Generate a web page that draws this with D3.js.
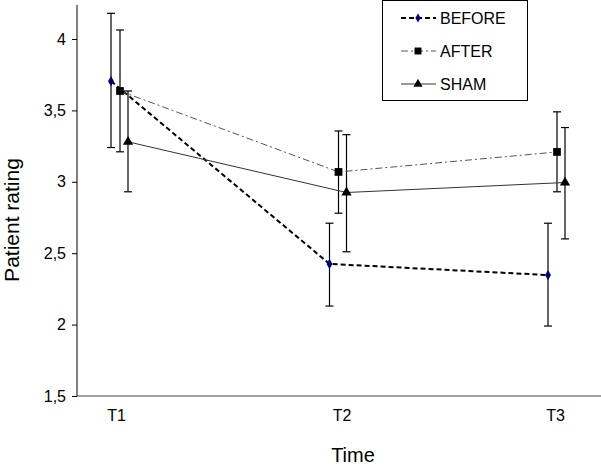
<!DOCTYPE html>
<html><head><meta charset="utf-8">
<script src="https://cdn.jsdelivr.net/npm/d3@7"></script>
<style>body{margin:0;background:#fff}svg{display:block;font-family:"Liberation Sans",Arial,sans-serif}</style>
</head><body><svg id="c" width="601" height="466"></svg>
<script>
const categories = ["T1","T2","T3"];
const seriesNames = ["BEFORE","AFTER","SHAM"];
const beforeMean = [3.705, 2.425, 2.347];
const beforeHi   = [4.18, 2.71, 2.71];
const beforeLo   = [3.24, 2.13, 1.99];
const afterMean  = [3.636, 3.069, 3.209];
const afterHi    = [4.063, 3.356, 3.49];
const afterLo    = [3.21, 2.78, 2.93];
const shamMean   = [3.28, 2.925, 2.995];
const shamHi     = [3.636, 3.33, 3.38];
const shamLo     = [2.93, 2.51, 2.60];
const yTicks = [1.5, 2, 2.5, 3, 3.5, 4];

const svg = d3.select("#c");
const x = d3.scalePoint().domain(categories).range([120, 557]);
const y = d3.scaleLinear().domain([1.5, 4]).range([396, 39]);
const loc = d3.formatLocale({decimal:",", thousands:".", grouping:[3], currency:["",""]});
const fmt = loc.format("~g");

const series = [
  {name:seriesNames[0], mean:beforeMean, hi:beforeHi, lo:beforeLo, off:-9, dash:"5,3", color:"#000", width:2, sym:d3.symbolDiamond, size:30, fill:"#000080"},
  {name:seriesNames[1], mean:afterMean, hi:afterHi, lo:afterLo, off:0, dash:"7,3,2,3", color:"#555", width:1, sym:d3.symbolSquare, size:60, fill:"#000"},
  {name:seriesNames[2], mean:shamMean, hi:shamHi, lo:shamLo, off:8, dash:null, color:"#333", width:1, sym:d3.symbolTriangle, size:45, fill:"#000"}
];

// axes
const yAxis = svg.append("g").attr("transform","translate(77,0)")
  .call(d3.axisLeft(y).tickValues(yTicks).tickFormat(fmt).tickSize(5).tickPadding(6));
yAxis.select(".domain").attr("d","M0,5V396").attr("stroke","#000");
yAxis.selectAll("text").attr("font-size",16).attr("fill","#000").attr("font-family","Liberation Sans, Arial, sans-serif");
yAxis.selectAll("line").attr("stroke","#000");

const xAxis = svg.append("g").attr("transform","translate(0,396)")
  .call(d3.axisBottom(x).tickSize(0).tickPadding(14));
xAxis.select(".domain").attr("d","M77,0H601").attr("stroke","#444");
xAxis.selectAll("text").attr("font-size",16).attr("fill","#000").attr("font-family","Liberation Sans, Arial, sans-serif")
  .attr("dx", (d,i)=>[-4,3,-2][i]);

svg.append("text").attr("transform","translate(19,220) rotate(-90)").attr("text-anchor","middle")
  .attr("font-size",21).text("Patient rating");
svg.append("text").attr("x",353).attr("y",462).attr("text-anchor","middle").attr("font-size",20).text("Time");

// error bars
series.forEach(s=>{
  const g = svg.append("g");
  categories.forEach((c,i)=>{
    const cx = x(c)+s.off;
    g.append("line").attr("x1",cx).attr("x2",cx).attr("y1",y(s.hi[i])).attr("y2",y(s.lo[i])).attr("stroke","#000").attr("stroke-width",1.2);
    [s.hi[i], s.lo[i]].forEach(v=>g.append("line").attr("x1",cx-4).attr("x2",cx+4).attr("y1",y(v)).attr("y2",y(v)).attr("stroke","#000").attr("stroke-width",1.2));
  });
});
// lines
series.forEach(s=>{
  const line = d3.line().x((d,i)=>x(categories[i])+s.off).y(d=>y(d));
  svg.append("path").attr("d",line(s.mean)).attr("fill","none").attr("stroke",s.color)
    .attr("stroke-width",s.width).attr("stroke-dasharray",s.dash);
});
// markers
series.forEach(s=>{
  categories.forEach((c,i)=>{
    svg.append("path").attr("d",d3.symbol(s.sym,s.size)())
      .attr("transform",`translate(${x(c)+s.off},${y(s.mean[i])})`).attr("fill",s.fill);
  });
});

// legend
const lg = svg.append("g");
lg.append("rect").attr("x",382.5).attr("y",0.5).attr("width",145).attr("height",100).attr("fill","#fff").attr("stroke","#000");
series.forEach((s,i)=>{
  const yy = 18 + i*33;
  lg.append("line").attr("x1",401).attr("x2",436).attr("y1",yy).attr("y2",yy).attr("stroke",s.color)
    .attr("stroke-width",s.width).attr("stroke-dasharray",s.dash);
  lg.append("path").attr("d",d3.symbol(s.sym,s.size*0.8)()).attr("transform",`translate(418,${yy})`).attr("fill",s.fill);
  lg.append("text").attr("x",440).attr("y",yy+6).attr("font-size",16).text(s.name);
});
</script></body></html>
